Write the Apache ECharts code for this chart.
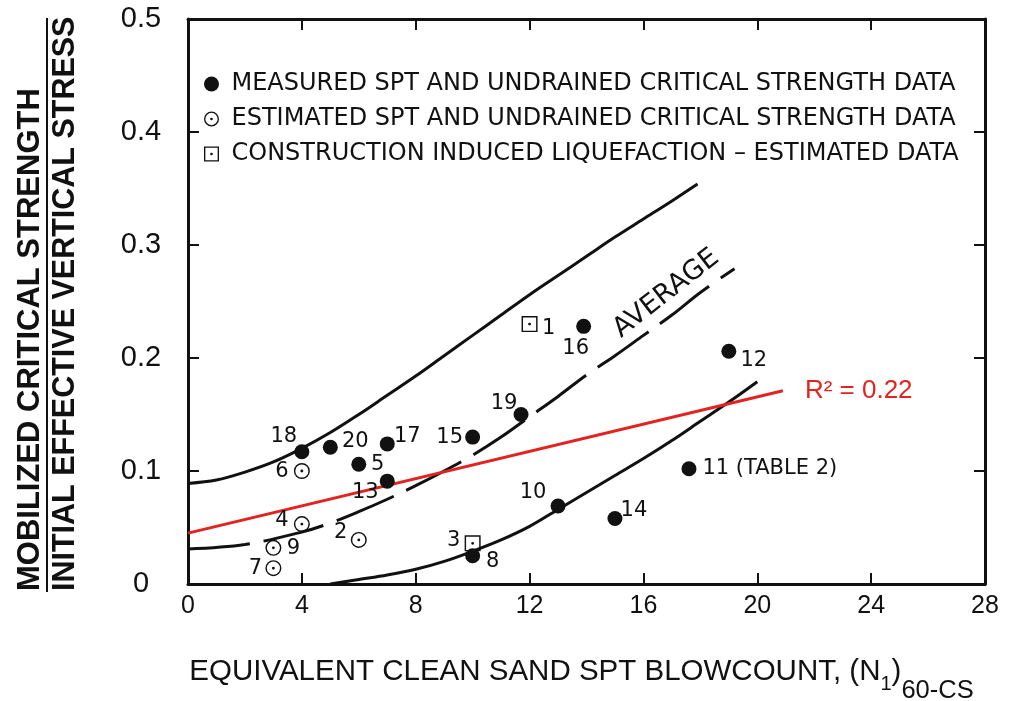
<!DOCTYPE html>
<html>
<head>
<meta charset="utf-8">
<script src="https://cdn.jsdelivr.net/npm/echarts@6/dist/echarts.min.js"></script>
<style>
  html, body { margin: 0; padding: 0; background: #fff; }
  #chart { width: 1029px; height: 701px; }
</style>
</head>
<body>
<div id="chart"></div>
<script>
// Case histories: equivalent clean sand blowcount vs. strength ratio
const measuredIds = ['18', '20', '17', '5', '13', '15', '19', '16', '12', '11', '10', '14', '8'];
const measuredX = [4, 5, 7, 6, 7, 10, 11.7, 13.9, 19, 17.6, 13, 15, 10];
const measuredY = [0.117, 0.121, 0.124, 0.106, 0.091, 0.130, 0.150, 0.228, 0.206, 0.102, 0.069, 0.058, 0.025];

const estimatedIds = ['6', '4', '9', '7', '2'];
const estimatedX = [4, 4, 3, 3, 6];
const estimatedY = [0.100, 0.053, 0.032, 0.014, 0.039];

const constructionIds = ['1', '3'];
const constructionX = [12, 10];
const constructionY = [0.230, 0.036];

// Bounding curves and average relationship
const upperX = [0, 1, 2, 3, 4, 5, 6, 7, 8, 9, 10, 11, 12, 13, 14, 15, 16, 17, 17.9];
const upperY = [0.089, 0.092, 0.099, 0.108, 0.120, 0.134, 0.150, 0.167, 0.184, 0.202, 0.220, 0.238, 0.256, 0.273, 0.290, 0.307, 0.323, 0.339, 0.354];
const averageX = [0, 2, 4, 5, 6, 7, 8, 9, 10, 11, 12, 13, 14, 15, 16, 17, 18, 19.2];
const averageY = [0.031, 0.035, 0.046, 0.054, 0.064, 0.075, 0.087, 0.100, 0.114, 0.130, 0.148, 0.166, 0.185, 0.202, 0.220, 0.238, 0.258, 0.279];
const lowerX = [5, 6, 7, 8, 9, 10, 11, 12, 13, 14, 15, 16, 17, 18, 19, 20];
const lowerY = [0.000, 0.004, 0.008, 0.013, 0.020, 0.029, 0.039, 0.051, 0.066, 0.081, 0.096, 0.111, 0.127, 0.144, 0.161, 0.179];

// Linear regression through the case histories
const trendX = [0, 20.9];
const trendY = [0.045, 0.171];
const trendR2 = 0.22;

// Axis ticks
const xTicks = [0, 4, 8, 12, 16, 20, 24, 28];
const yTicks = [0, 0.1, 0.2, 0.3, 0.4, 0.5];

const legendNames = [
  'MEASURED SPT AND UNDRAINED CRITICAL STRENGTH DATA',
  'ESTIMATED SPT AND UNDRAINED CRITICAL STRENGTH DATA',
  'CONSTRUCTION INDUCED LIQUEFACTION \u2013 ESTIMATED DATA'
];
const labelNotes = { '11': '11 (TABLE 2)' };
const averageLabelAt = [16.8, 0.257];

// Where each case number sits relative to its marker (pixels)
const labelOffsets = {
  '18': [-18, -15], '20': [25, -6], '17': [20, -7], '5': [19, 0], '13': [-22, 11],
  '15': [-23, 0], '19': [-17, -11], '16': [-8, 22], '12': [25, 9], '10': [-25, -13],
  '14': [19, -8], '8': [20, 6], '6': [-20, 1], '4': [-20, -4], '9': [20, 1],
  '7': [-18, 0], '2': [-18, -7], '3': [-19, -3], '1': [19, 4]
};

const ringSymbol = 'path://M10 0A10 10 0 1 1 10 20A10 10 0 1 1 10 0Z' +
  'M10 1.8A8.2 8.2 0 1 0 10 18.2A8.2 8.2 0 1 0 10 1.8Z' +
  'M10 8.2A1.8 1.8 0 1 1 10 11.8A1.8 1.8 0 1 1 10 8.2Z';
const boxSymbol = 'path://M0 0L20 0L20 20L0 20Z' +
  'M1.8 1.8L1.8 18.2L18.2 18.2L18.2 1.8Z' +
  'M10 8.2A1.8 1.8 0 1 1 10 11.8A1.8 1.8 0 1 1 10 8.2Z';

const INK = '#111';
const RED = '#e3231f';
const caseLabelStyle = { fontFamily: 'DejaVu Sans', fontSize: 21, color: INK, textBorderWidth: 0 };

function zip(xs, ys) { return xs.map((x, i) => [x, ys[i]]); }

function casePoints(ids, xs, ys) {
  return ids.map((id, i) => {
    const text = labelNotes[id] || id;
    const place = labelNotes[id]
      ? { position: 'right', distance: 6 }
      : { position: 'inside', offset: labelOffsets[id] };
    return {
      name: id, value: [xs[i], ys[i]],
      label: Object.assign({ show: true, formatter: text }, caseLabelStyle, place)
    };
  });
}

function curve(name, xs, ys, lineStyle) {
  return {
    name: name, type: 'line', data: zip(xs, ys), showSymbol: false, symbol: 'none',
    smooth: 0.35, silent: true, z: 2,
    lineStyle: Object.assign({ color: INK, width: 3 }, lineStyle)
  };
}

const axisLineStyle = { onZero: false, lineStyle: { color: INK, width: 3 } };
const tickStyle = { inside: true, length: 11, lineStyle: { color: INK, width: 2 } };

// Stacked fraction title for the vertical axis
const yTitleGraphics = [
  {
    type: 'text', x: 30, y: 591, rotation: Math.PI / 2,
    style: { text: 'MOBILIZED CRITICAL STRENGTH', fontFamily: 'Liberation Sans', fontWeight: 'bold',
             fontSize: 31, fill: INK, align: 'left', verticalAlign: 'middle' }
  },
  {
    type: 'line', shape: { x1: 47, y1: 18, x2: 47, y2: 592 },
    style: { stroke: INK, lineWidth: 2 }
  },
  {
    type: 'text', x: 66, y: 591, rotation: Math.PI / 2,
    style: { text: 'INITIAL EFFECTIVE VERTICAL STRESS', fontFamily: 'Liberation Sans', fontWeight: 'bold',
             fontSize: 30.5, fill: INK, align: 'left', verticalAlign: 'middle' }
  }
];

const option = {
  backgroundColor: '#fff',
  animation: false,
  grid: { left: 188, right: 44, top: 19, bottom: 117, containLabel: false, outerBoundsMode: 'none' },
  xAxis: [
    {
      type: 'value', min: xTicks[0], max: xTicks[xTicks.length - 1], interval: xTicks[1] - xTicks[0],
      position: 'bottom', splitLine: { show: false },
      axisLine: axisLineStyle, axisTick: tickStyle,
      axisLabel: { fontFamily: 'Liberation Sans', fontSize: 25, color: INK, margin: 10 },
      name: '{a|EQUIVALENT CLEAN SAND SPT BLOWCOUNT, (N}{s|1}{a|)}{b|60-CS}',
      nameLocation: 'middle', nameGap: 73,
      nameTextStyle: {
        padding: [0, 10, 0, 0],
        rich: {
          a: { fontFamily: 'Liberation Sans', fontSize: 29.5, color: INK, verticalAlign: 'top', lineHeight: 32 },
          s: { fontFamily: 'Liberation Sans', fontSize: 20, color: INK, verticalAlign: 'top', lineHeight: 20, padding: [17, 0, 0, 0] },
          b: { fontFamily: 'Liberation Sans', fontSize: 25.5, color: INK, verticalAlign: 'top', lineHeight: 24, padding: [21, 0, 0, 0] }
        }
      }
    },
    {
      type: 'value', min: xTicks[0], max: xTicks[xTicks.length - 1], interval: xTicks[1] - xTicks[0],
      position: 'top', splitLine: { show: false },
      axisLine: axisLineStyle, axisTick: tickStyle, axisLabel: { show: false }
    }
  ],
  yAxis: [
    {
      type: 'value', min: yTicks[0], max: yTicks[yTicks.length - 1], interval: 0.1,
      position: 'left', splitLine: { show: false },
      axisLine: axisLineStyle, axisTick: tickStyle,
      axisLabel: {
        fontFamily: 'Liberation Sans', fontSize: 29, color: INK, margin: 47, align: 'center',
        formatter: v => (v === 0 ? '0' : v.toFixed(1))
      }
    },
    {
      type: 'value', min: yTicks[0], max: yTicks[yTicks.length - 1], interval: 0.1,
      position: 'right', splitLine: { show: false },
      axisLine: axisLineStyle, axisTick: tickStyle, axisLabel: { show: false }
    }
  ],
  legend: {
    orient: 'vertical', left: 199, top: 67,
    itemWidth: 30, itemHeight: 15, itemGap: 11,
    selectedMode: false,
    data: legendNames,
    textStyle: { fontFamily: 'DejaVu Sans', fontSize: 24, color: INK, lineHeight: 24 }
  },
  graphic: yTitleGraphics,
  series: [
    curve('upper bound', upperX, upperY, {}),
    curve('lower bound', lowerX, lowerY, {}),
    curve('average', averageX, averageY, { type: [62, 14] }),
    {
      name: 'regression', type: 'line', data: zip(trendX, trendY), symbol: 'none', silent: true, z: 3,
      lineStyle: { color: RED, width: 3 },
      endLabel: {
        show: true, distance: 22, formatter: 'R\u00B2 = ' + trendR2.toFixed(2),
        fontFamily: 'Liberation Sans', fontSize: 26, color: RED
      }
    },
    {
      name: legendNames[0], type: 'scatter', symbol: 'circle', symbolSize: 15, z: 5,
      itemStyle: { color: INK, opacity: 1 },
      data: casePoints(measuredIds, measuredX, measuredY)
    },
    {
      name: legendNames[1], type: 'scatter', symbol: ringSymbol, symbolSize: 16, z: 5,
      itemStyle: { color: INK, opacity: 1 },
      data: casePoints(estimatedIds, estimatedX, estimatedY)
    },
    {
      name: legendNames[2], type: 'scatter', symbol: boxSymbol, symbolSize: 16, z: 5,
      itemStyle: { color: INK, opacity: 1 },
      data: casePoints(constructionIds, constructionX, constructionY)
    }
  ]
};

const chart = echarts.init(document.getElementById('chart'), null, { renderer: 'canvas' });
chart.setOption(option);

// Label the average curve, placed through the grid's own scales
const avgAt = chart.convertToPixel({ gridIndex: 0 }, averageLabelAt);
chart.setOption({
  graphic: yTitleGraphics.concat([{
    type: 'text', x: avgAt[0], y: avgAt[1], rotation: 38 * Math.PI / 180, z: 10,
    style: { text: 'AVERAGE', fontFamily: 'DejaVu Sans', fontSize: 27, fill: INK,
             align: 'center', verticalAlign: 'middle' }
  }])
});
</script>
</body>
</html>
